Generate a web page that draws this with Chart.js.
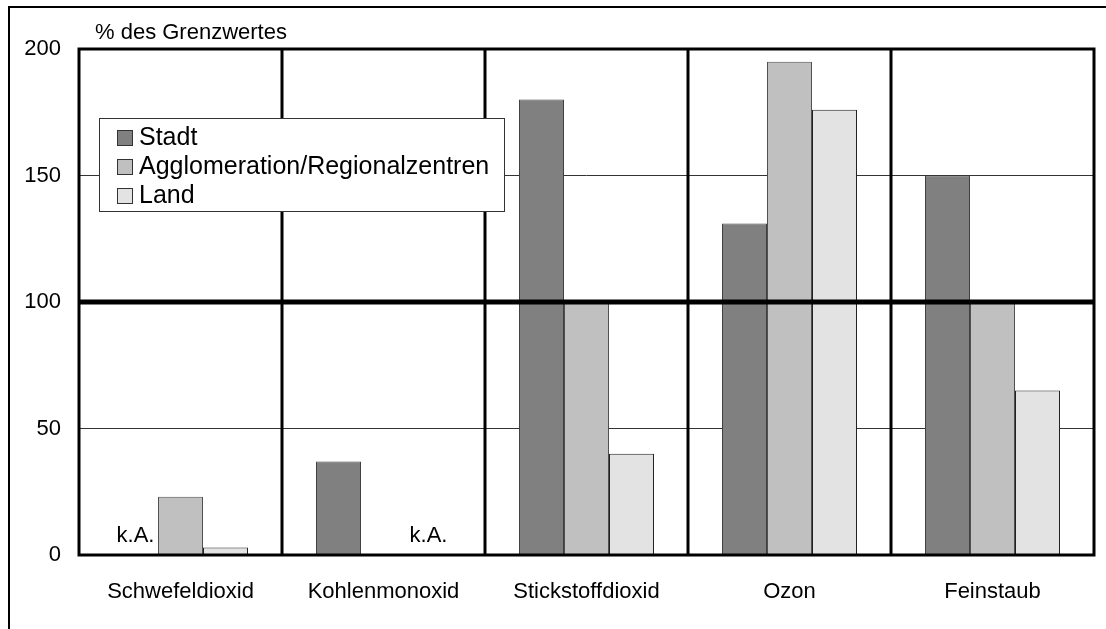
<!DOCTYPE html>
<html>
<head>
<meta charset="utf-8">
<script src="https://cdn.jsdelivr.net/npm/chart.js@4/dist/chart.umd.min.js"></script>
<style>
  html, body { margin: 0; padding: 0; background: #fff; }
  #wrap { width: 1106px; height: 629px; position: relative; }
</style>
</head>
<body>
<div id="wrap"><canvas id="chart" width="1106" height="629"></canvas></div>
<script>
// Werte in % des Grenzwertes (null = keine Angabe)
const kategorien = ["Schwefeldioxid", "Kohlenmonoxid", "Stickstoffdioxid", "Ozon", "Feinstaub"];
const stadt = [null, 37, 180, 131, 150];
const agglomeration = [23, null, 100, 195, 100];
const land = [3, null, 40, 176, 65];
const serienNamen = ["Stadt", "Agglomeration/Regionalzentren", "Land"];
const yTicks = [0, 50, 100, 150, 200];
// k.A. Markierungen: [Kategorie, Serie]
const keineAngabe = [[0, 0], [1, 2]];

const FONT = "'Liberation Sans', Arial, Helvetica, sans-serif";
const farben = ["#808080", "#c0c0c0", "#e3e3e3"];

// Rahmen, 100%-Linie und Trennlinien über den Balken
const rahmenPlugin = {
  id: "rahmen",
  beforeDraw(chart) {
    const ctx = chart.ctx;
    ctx.save();
    ctx.strokeStyle = "#000";
    ctx.lineWidth = 2;
    ctx.beginPath();
    ctx.moveTo(9, chart.height + 5);
    ctx.lineTo(9, 7);
    ctx.lineTo(chart.width + 5, 7);
    ctx.stroke();
    ctx.restore();
  },
  afterDatasetsDraw(chart) {
    const { ctx, chartArea: a, scales } = chart;
    const x = scales.x, y = scales.y;
    ctx.save();
    ctx.strokeStyle = "#000";
    // Grenzwert 100
    ctx.lineWidth = 5;
    ctx.beginPath();
    ctx.moveTo(a.left, y.getPixelForValue(100));
    ctx.lineTo(a.right, y.getPixelForValue(100));
    ctx.stroke();
    // Trennlinien zwischen Kategorien
    ctx.lineWidth = 3;
    for (let i = 0; i < kategorien.length - 1; i++) {
      const px = (x.getPixelForValue(i) + x.getPixelForValue(i + 1)) / 2;
      ctx.beginPath();
      ctx.moveTo(px, a.top);
      ctx.lineTo(px, a.bottom);
      ctx.stroke();
    }
    ctx.strokeRect(a.left, a.top, a.right - a.left, a.bottom - a.top);
    ctx.restore();
  },
  afterDraw(chart) {
    const { ctx } = chart;
    ctx.save();
    ctx.fillStyle = "#000";
    ctx.textBaseline = "middle";
    // Achsentitel
    ctx.font = "22px " + FONT;
    ctx.textAlign = "left";
    ctx.fillText("% des Grenzwertes", 95, 33);

    // k.A.
    ctx.textAlign = "center";
    ctx.font = "22px " + FONT;
    keineAngabe.forEach(([k, s]) => {
      const el = chart.getDatasetMeta(s).data[k];
      ctx.fillText("k.A.", el.x, chart.scales.y.getPixelForValue(0) - 19);
    });

    // Legende
    const lx = 99, ly = 118, lw = 405, lh = 93;
    ctx.fillStyle = "#fff";
    ctx.fillRect(lx, ly, lw, lh);
    ctx.strokeStyle = "#333";
    ctx.lineWidth = 1;
    ctx.strokeRect(lx + 0.5, ly + 0.5, lw, lh);
    ctx.font = "25px " + FONT;
    ctx.textAlign = "left";
    serienNamen.forEach((name, i) => {
      const cy = 138 + i * 29;
      ctx.fillStyle = farben[i];
      ctx.fillRect(117, cy - 8, 16, 16);
      ctx.strokeStyle = "#333";
      ctx.strokeRect(117.5, cy - 7.5, 15, 15);
      ctx.fillStyle = "#000";
      ctx.fillText(name, 139, cy);
    });
    ctx.restore();
  }
};

new Chart(document.getElementById("chart"), {
  type: "bar",
  data: {
    labels: kategorien,
    datasets: [
      { label: serienNamen[0], data: stadt, backgroundColor: farben[0], borderColor: "#404040", borderWidth: 1 },
      { label: serienNamen[1], data: agglomeration, backgroundColor: farben[1], borderColor: "#505050", borderWidth: 1 },
      { label: serienNamen[2], data: land, backgroundColor: farben[2], borderColor: "#222", borderWidth: 1 },
    ],
  },
  options: {
    responsive: false,
    animation: false,
    layout: { padding: { top: 49, right: 12, left: 0, bottom: 0 } },
    datasets: { bar: { categoryPercentage: 0.665, barPercentage: 1 } },
    plugins: { legend: { display: false }, tooltip: { enabled: false } },
    scales: {
      x: {
        grid: { display: false },
        border: { display: false },
        ticks: { color: "#000", font: { family: FONT, size: 22 }, padding: 16, maxRotation: 0 },
        afterFit: (s) => { s.height = 74; },
      },
      y: {
        min: 0,
        max: 200,
        afterBuildTicks: (s) => { s.ticks = yTicks.map((v) => ({ value: v })); },
        border: { display: false },
        grid: {
          drawTicks: false,
          color: (c) => (c.tick && (c.tick.value === 50 || c.tick.value === 150) ? "#333" : "rgba(0,0,0,0)"),
          lineWidth: 1,
        },
        ticks: { color: "#000", font: { family: FONT, size: 22 }, padding: 18 },
        afterFit: (s) => { s.width = 79; },
      },
    },
  },
  plugins: [rahmenPlugin],
});
</script>
</body>
</html>
